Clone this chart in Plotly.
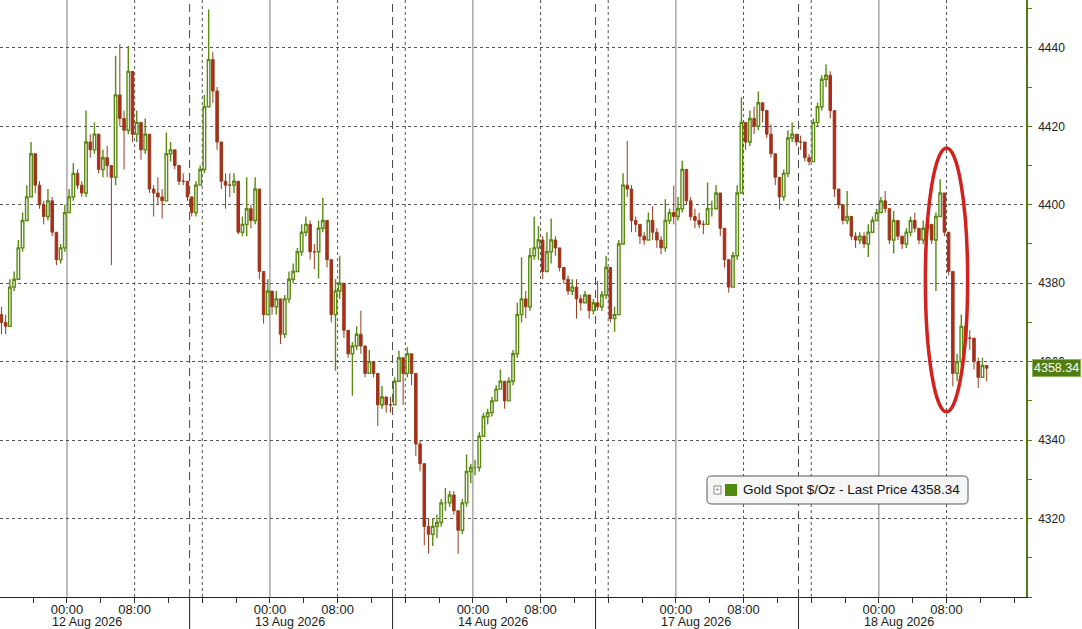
import plotly.graph_objects as go

# ---------------- data (30-minute bars, hours on a session-compressed axis; 0 = 12 Aug 00:00) ----------------
bar_start_hour = -7.75
bar_step_hours = 0.5
first_open = 4372.0

close_12aug = [4370, 4369, 4379, 4381, 4389, 4396, 4402, 4413, 4405, 4400, 4397, 4401, 4393, 4386, 4389,
               4398, 4402, 4408, 4405, 4403, 4416, 4414, 4418, 4409, 4412, 4410, 4407, 4428, 4422, 4419,
               4434, 4418, 4421, 4414, 4418, 4404, 4403, 4402, 4401, 4413, 4414, 4410, 4406, 4406, 4402]
high_12aug = [4374, 4372, 4381, 4383, 4391, 4398, 4405, 4416, 4413, 4406, 4401, 4404, 4402, 4393, 4390,
              4400, 4404, 4410.6, 4409, 4406, 4424, 4418, 4421, 4418, 4414, 4415, 4410, 4438, 4441, 4424,
              4440.5, 4434, 4424, 4420, 4422, 4418, 4405, 4407, 4404, 4418.4, 4416, 4414, 4410, 4408, 4406]
low_12aug = [4367, 4367, 4375, 4378, 4385, 4388, 4396, 4402, 4403, 4399, 4395, 4396, 4392, 4384.6, 4385,
             4388, 4398, 4401, 4404, 4402, 4402, 4412, 4413, 4408, 4407, 4407, 4384.6, 4405, 4420, 4409,
             4418, 4416, 4416, 4411.5, 4413, 4403, 4397, 4400, 4396.5, 4401, 4411, 4409, 4405, 4405, 4401]

close_13aug = [4398, 4405, 4409, 4425, 4437, 4429, 4416, 4406, 4405, 4405, 4406, 4393, 4395, 4399, 4396, 4404,
               4383, 4372, 4378, 4374, 4376, 4367, 4376, 4381, 4383, 4388, 4393, 4395, 4388, 4388, 4394, 4396,
               4386, 4372, 4378, 4380, 4368, 4362, 4364, 4367, 4364, 4357, 4360, 4357, 4349, 4351, 4349, 4349]
high_13aug = [4402, 4406, 4410, 4428, 4449.8, 4439, 4430, 4416, 4408, 4408, 4408, 4406, 4397, 4407, 4400, 4407,
              4404, 4380, 4381, 4378, 4378, 4376, 4377, 4383, 4385, 4389, 4395, 4397, 4396, 4390, 4396, 4401.7,
              4396, 4386, 4381, 4387, 4380, 4368, 4365, 4369, 4373, 4363, 4363, 4360, 4356, 4353.8, 4351, 4351]
low_13aug = [4397, 4397, 4405, 4408, 4425, 4426, 4414, 4404, 4399, 4402, 4403, 4392.5, 4392, 4392, 4394, 4395,
             4381, 4369.7, 4372, 4372, 4372, 4364.5, 4366, 4375, 4380, 4383, 4387, 4392, 4386, 4383.6, 4381.2, 4393,
             4384, 4370, 4357.7, 4376, 4366, 4361, 4351.3, 4363, 4362, 4356, 4357, 4356, 4343.6, 4348, 4347, 4347]

close_14aug = [4355, 4361, 4357, 4362, 4357, 4339, 4334, 4318, 4316, 4318, 4319, 4324, 4324, 4326, 4322, 4317,
               4324, 4332, 4333, 4333, 4341, 4346, 4347, 4350, 4353, 4355, 4350, 4355, 4362, 4372, 4376, 4374,
               4387, 4389, 4391, 4383, 4388, 4391, 4389, 4384, 4381, 4378, 4379, 4376, 4375, 4377, 4373, 4375]
high_14aug = [4356, 4362.8, 4360, 4363.7, 4362, 4357, 4340, 4333, 4320, 4320, 4321, 4325, 4327.8, 4327, 4327, 4322,
              4325, 4336.3, 4334, 4335, 4342, 4347, 4348, 4351, 4354, 4358, 4355, 4356, 4363, 4375, 4386.6, 4378,
              4389, 4397, 4394.6, 4392, 4393, 4396.5, 4392, 4389, 4384, 4382, 4381, 4381, 4377, 4378, 4377, 4376]
low_14aug = [4349, 4355, 4349, 4356, 4354, 4336, 4332, 4313.2, 4311.1, 4313, 4315, 4318, 4322, 4323, 4321, 4311,
             4316, 4323, 4329, 4331, 4332, 4341, 4344, 4346, 4350, 4353, 4348, 4350.6, 4354, 4361, 4370, 4371,
             4373, 4386, 4386, 4381, 4383, 4385, 4387, 4383, 4380, 4377, 4377, 4371, 4373, 4375, 4371, 4372]

close_17aug = [4374, 4377, 4384, 4371, 4372, 4390, 4405, 4404, 4396, 4395, 4392, 4391, 4396, 4393, 4391, 4389,
               4396, 4398, 4397, 4399, 4409, 4401, 4397, 4396, 4395, 4395, 4399, 4399, 4403, 4394, 4386, 4379,
               4387, 4403, 4421, 4416, 4422, 4420, 4426, 4424, 4418, 4413, 4407, 4402, 4408, 4417, 4418, 4416]
high_17aug = [4380.6, 4378, 4387, 4384, 4374, 4391, 4408, 4416.3, 4405, 4397, 4395, 4393, 4398, 4399.6, 4394, 4392,
              4401.4, 4399, 4404.9, 4402, 4411.2, 4409, 4402, 4399, 4398, 4396, 4405.7, 4401, 4405, 4403, 4394, 4386,
              4388, 4405, 4427.4, 4421, 4424, 4425, 4428.9, 4426, 4424, 4420.5, 4413, 4407, 4409, 4419, 4421, 4418]
low_17aug = [4373, 4373, 4376, 4370, 4367.6, 4372, 4390, 4402, 4393, 4393, 4390, 4389.8, 4391, 4391, 4389, 4387.4,
             4388, 4395, 4395, 4396, 4398, 4400, 4396, 4394, 4394, 4392.5, 4395, 4397, 4399, 4392, 4384, 4377.6,
             4379, 4386, 4403, 4414, 4415, 4418, 4419, 4421, 4417, 4412, 4405, 4398.8, 4401, 4407, 4416, 4415]

close_18aug = [4416, 4412, 4411, 4421, 4425, 4432, 4433, 4424, 4404, 4400, 4396, 4397, 4392, 4391, 4392, 4390,
               4393, 4396, 4398, 4401, 4399, 4391, 4396, 4392, 4390, 4393, 4396, 4394, 4391, 4394, 4395, 4391,
               4397, 4403, 4393, 4383, 4357, 4360, 4369, 4366, 4366, 4360, 4356, 4359, 4358.34]
high_18aug = [4417.6, 4415, 4413, 4422, 4426, 4433, 4435.8, 4434, 4424, 4404, 4400, 4403.5, 4397, 4393, 4393, 4393,
              4395, 4397, 4399, 4402, 4403.5, 4399, 4398.4, 4396, 4392, 4394, 4397, 4398, 4394, 4396, 4396, 4395,
              4398, 4406.5, 4403, 4393, 4383, 4362, 4372, 4369, 4368, 4366, 4361, 4361, 4359]
low_18aug = [4414, 4411, 4410, 4411, 4420, 4424, 4430, 4422, 4402, 4399, 4395, 4395, 4391, 4389, 4390, 4389,
             4386.7, 4393, 4396, 4398, 4398, 4390, 4387.6, 4391, 4388.7, 4389, 4392, 4393, 4390, 4390, 4392, 4390,
             4378, 4397, 4392, 4382, 4353.7, 4355, 4359, 4364, 4363, 4358, 4353.3, 4356, 4355]

last_price = 4358.34
series_name = "Gold Spot $/Oz - Last Price"

# axis labelling data
label_hours = [0, 8, 24, 32, 48, 56, 72, 80, 96, 104]
label_texts = ["00:00", "08:00"] * 5
minor_tick_hours = [-4, 4, 12, 16, 20, 28, 36, 40, 44, 52, 60, 64, 68, 76, 84, 88, 92, 100, 108, 112]
midnight_hours = [0, 24, 48, 72, 96]
dotted_hours = [8, 16, 32, 40, 56, 64, 80, 88, 104]
session_breaks = [14.5, 38.5, 62.5, 86.5]
date_labels = ["12 Aug 2026", "13 Aug 2026", "14 Aug 2026", "17 Aug 2026", "18 Aug 2026"]
price_ticks = [4300, 4320, 4340, 4360, 4380, 4400, 4420, 4440]
price_tick_text = ["", "4320", "4340", "4360", "4380", "4400", "4420", "4440"]

# ---------------- assemble ----------------
close = close_12aug + close_13aug + close_14aug + close_17aug + close_18aug
high = high_12aug + high_13aug + high_14aug + high_17aug + high_18aug
low = low_12aug + low_13aug + low_14aug + low_17aug + low_18aug
opens = [first_open] + close[:-1]
high = [max(h, o, c) for h, o, c in zip(high, opens, close)]
low = [min(l, o, c) for l, o, c in zip(low, opens, close)]
hours = [bar_start_hour + bar_step_hours * i for i in range(len(close))]

GREEN = "#5a8a12"
AXIS_GREEN = "#4f7d12"
RED = "#b0281c"
FONT = "Liberation Sans"

fig = go.Figure()
fig.add_trace(go.Candlestick(
    x=hours, open=opens, high=high, low=low, close=close,
    increasing=dict(line=dict(color=GREEN, width=1.4), fillcolor="rgba(255,255,255,1)"),
    decreasing=dict(line=dict(color="#9a3a1a", width=1), fillcolor=RED),
    whiskerwidth=0, showlegend=False, hoverinfo="skip",
))

# green triangles on the price axis + price tag pointer
fig.add_trace(go.Scatter(
    x=[1.0045] * len(price_ticks), y=price_ticks, xaxis="x2", mode="markers",
    marker=dict(symbol="triangle-right", size=7, color=AXIS_GREEN, line=dict(width=0)),
    cliponaxis=False, showlegend=False, hoverinfo="skip",
))
fig.add_trace(go.Scatter(
    x=[1.006], y=[last_price], xaxis="x2", mode="markers",
    marker=dict(symbol="triangle-left", size=11, color=AXIS_GREEN, line=dict(width=0)),
    cliponaxis=False, showlegend=False, hoverinfo="skip",
))

shapes = []
for h in midnight_hours:
    shapes.append(dict(type="line", xref="x", yref="paper", x0=h, x1=h, y0=0, y1=1,
                       line=dict(color="#7a7a7a", width=1), layer="below"))
for h in dotted_hours:
    shapes.append(dict(type="line", xref="x", yref="paper", x0=h, x1=h, y0=0, y1=1,
                       line=dict(color="#555555", width=1, dash="dot"), layer="below"))
for h in session_breaks:
    shapes.append(dict(type="line", xref="x", yref="paper", x0=h, x1=h, y0=0, y1=1,
                       line=dict(color="#444444", width=1, dash="8px,5px"), layer="below"))
    shapes.append(dict(type="line", xref="x", yref="paper", x0=h, x1=h, y0=-0.06, y1=0,
                       line=dict(color="#222222", width=1)))

# red ellipse highlighting the drop
shapes.append(dict(type="circle", xref="x", yref="y", x0=101.5, x1=106.5, y0=4347.2, y1=4414.5,
                   line=dict(color="#d3211d", width=3.5)))

# legend box (rounded rectangle, paper coords)
lx0, lx1, ly0, ly1 = 0.6891, 0.9435, 0.1558, 0.2027
rx, ry = 0.0045, 0.0075
path = (f"M {lx0+rx},{ly0} L {lx1-rx},{ly0} Q {lx1},{ly0} {lx1},{ly0+ry} "
        f"L {lx1},{ly1-ry} Q {lx1},{ly1} {lx1-rx},{ly1} L {lx0+rx},{ly1} "
        f"Q {lx0},{ly1} {lx0},{ly1-ry} L {lx0},{ly0+ry} Q {lx0},{ly0} {lx0+rx},{ly0} Z")
shapes.append(dict(type="path", xref="paper", yref="paper", path=path,
                   fillcolor="#f6f6f6", line=dict(color="#555555", width=1)))
shapes.append(dict(type="rect", xref="paper", yref="paper", x0=0.7066, x1=0.7183, y0=0.1692, y1=0.1893,
                   fillcolor="#4f8a10", line=dict(width=0)))
shapes.append(dict(type="rect", xref="paper", yref="paper", x0=0.6959, x1=0.7027, y0=0.1725, y1=0.1860,
                   fillcolor="#ffffff", line=dict(color="#888888", width=1)))

annotations = []
for h, txt in zip(midnight_hours, date_labels):
    annotations.append(dict(x=h, xref="x", y=0, yref="paper", text=txt, showarrow=False,
                            xanchor="left", yanchor="top", xshift=-17, yshift=-16,
                            font=dict(family=FONT, size=12.5, color="#1a1a1a")))
annotations.append(dict(x=0.7222, xref="paper", y=0.1795, yref="paper", text=series_name + f" {last_price:.2f}",
                        showarrow=False, xanchor="left", yanchor="middle",
                        font=dict(family=FONT, size=13.5, color="#111111")))
annotations.append(dict(x=0.6993, xref="paper", y=0.1795, yref="paper", text="+", showarrow=False,
                        xanchor="center", yanchor="middle", font=dict(family=FONT, size=8, color="#777777")))
annotations.append(dict(x=1, xref="paper", y=last_price, yref="y", text=f"{last_price:.2f}", showarrow=False,
                        xanchor="left", yanchor="middle", xshift=6,
                        bgcolor=AXIS_GREEN, bordercolor="#8fb55a", borderwidth=1, borderpad=1,
                        font=dict(family=FONT, size=12.5, color="#ffffff")))

fig.update_layout(
    width=1082, height=629,
    margin=dict(l=0, r=56, t=0, b=32, pad=0),
    paper_bgcolor="#ffffff", plot_bgcolor="#ffffff",
    showlegend=False, boxgap=0.15,
    xaxis=dict(
        range=[-7.92, 113.4], showgrid=False, zeroline=False,
        showline=True, linecolor="#222222", linewidth=1,
        tickmode="array", tickvals=label_hours, ticktext=label_texts,
        ticks="outside", ticklen=5, tickcolor="#333333",
        minor=dict(tickmode="array", tickvals=minor_tick_hours, ticks="outside", ticklen=5, tickcolor="#333333"),
        tickfont=dict(family=FONT, size=13, color="#1a1a1a"),
        ticklabelstandoff=-5,
        rangeslider=dict(visible=False), fixedrange=True,
    ),
    xaxis2=dict(overlaying="x", range=[0, 1], visible=False, fixedrange=True),
    yaxis=dict(
        side="right", range=[4300, 4452.2],
        tickmode="array", tickvals=price_ticks, ticktext=price_tick_text,
        showgrid=True, gridcolor="#555555", griddash="dot", gridwidth=1,
        zeroline=False, showline=True, linecolor=AXIS_GREEN, linewidth=1.5,
        ticks="outside", ticklen=2, tickcolor=AXIS_GREEN,
        minor=dict(dtick=10, tick0=4300, ticks="outside", ticklen=4, tickcolor=AXIS_GREEN, showgrid=False),
        tickfont=dict(family=FONT, size=12, color="#222222"),
        ticklabelstandoff=6, fixedrange=True,
    ),
    shapes=shapes, annotations=annotations,
)

fig.write_html("out.html", config={"displayModeBar": False},
               post_script="document.body.style.margin='0';document.body.style.overflow='hidden';")
